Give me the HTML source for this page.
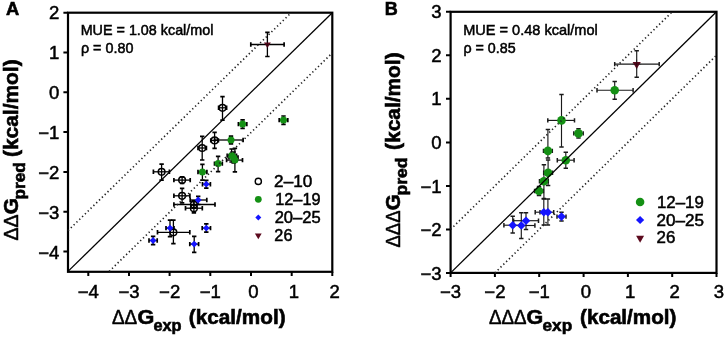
<!DOCTYPE html>
<html><head><meta charset="utf-8"><style>
html,body{margin:0;padding:0;background:#fff;}
body{width:726px;height:338px;overflow:hidden;}
.c{stroke-width:1.7}
.r .c{stroke-width:1.5}
text[font-weight=bold]{stroke-width:0.6}
svg{display:block;font-family:"Liberation Sans", sans-serif;will-change:transform;}
</style></head><body>
<svg width="726" height="338" viewBox="0 0 726 338">
<rect width="726" height="338" fill="#fff"/>
<g stroke="#000" stroke-width="2.2" fill="none">
<rect x="68.0" y="12.7" width="264.3" height="259.1"/>
<rect x="450.6" y="11.8" width="265.9" height="261.1"/>
<path d="M63.4 251.5H68.0M63.4 211.7H68.0M63.4 171.9H68.0M63.4 132.1H68.0M63.4 92.3H68.0M63.4 52.5H68.0M63.4 12.7H68.0M88.3 271.8V276.0M129.0 271.8V276.0M169.6 271.8V276.0M210.3 271.8V276.0M251.0 271.8V276.0M291.7 271.8V276.0M332.3 271.8V276.0M446.0 272.9H450.6M446.0 229.4H450.6M446.0 185.9H450.6M446.0 142.4H450.6M446.0 98.8H450.6M446.0 55.3H450.6M446.0 11.8H450.6M450.6 272.9V277.1M494.9 272.9V277.1M539.2 272.9V277.1M583.6 272.9V277.1M627.9 272.9V277.1M672.2 272.9V277.1M716.5 272.9V277.1" stroke-width="2"/>
</g>
<g stroke="#000" stroke-width="1.3" fill="none">
<path d="M153.4 171.8H169.4"/><path class="c" d="M153.4 169.6V174.0M169.4 169.6V174.0"/><path d="M161.6 164.2V180.2"/><path class="c" d="M159.4 164.2H163.8M159.4 180.2H163.8"/>
<path d="M173.9 180.1H190.2"/><path class="c" d="M173.9 177.9V182.3M190.2 177.9V182.3"/><path d="M182.1 176.8V183.4"/><path class="c" d="M179.9 176.8H184.3M179.9 183.4H184.3"/>
<path d="M173.9 195.8H189.9"/><path class="c" d="M173.9 193.6V198.0M189.9 193.6V198.0"/><path d="M182.1 188.3V202.9"/><path class="c" d="M179.9 188.3H184.3M179.9 202.9H184.3"/>
<path d="M173.9 204.5H215.0"/><path class="c" d="M173.9 202.3V206.7M215.0 202.3V206.7"/><path d="M193.9 200.8V208.2"/><path class="c" d="M191.7 200.8H196.1M191.7 208.2H196.1"/>
<path d="M185.5 208.2H202.3"/><path class="c" d="M185.5 206.0V210.4M202.3 206.0V210.4"/><path d="M193.9 201.3V212.8"/><path class="c" d="M191.7 201.3H196.1M191.7 212.8H196.1"/>
<path d="M157.5 232.3H189.8"/><path class="c" d="M157.5 230.1V234.5M189.8 230.1V234.5"/><path d="M173.4 220.1V243.7"/><path class="c" d="M171.2 220.1H175.6M171.2 243.7H175.6"/>
<path d="M198.0 148.0H206.4"/><path class="c" d="M198.0 145.8V150.2M206.4 145.8V150.2"/><path d="M202.2 136.3V160.0"/><path class="c" d="M200.0 136.3H204.4M200.0 160.0H204.4"/>
<path d="M210.8 140.4H218.4"/><path class="c" d="M210.8 138.2V142.6M218.4 138.2V142.6"/><path d="M214.6 132.4V148.4"/><path class="c" d="M212.4 132.4H216.8M212.4 148.4H216.8"/>
<path d="M218.6 107.8H226.6"/><path class="c" d="M218.6 105.6V110.0M226.6 105.6V110.0"/><path d="M222.5 96.6V120.2"/><path class="c" d="M220.3 96.6H224.7M220.3 120.2H224.7"/>
<path d="M214.6 140.0H243.1"/><path class="c" d="M214.6 137.8V142.2M243.1 137.8V142.2"/><path d="M231.0 136.2V143.8"/><path class="c" d="M228.8 136.2H233.2M228.8 143.8H233.2"/>
<path d="M227.2 155.6H236.5"/><path class="c" d="M227.2 153.4V157.8M236.5 153.4V157.8"/><path d="M231.6 149.0V162.0"/><path class="c" d="M229.4 149.0H233.8M229.4 162.0H233.8"/>
<path d="M229.0 157.4H238.0"/><path class="c" d="M229.0 155.2V159.6M238.0 155.2V159.6"/><path d="M233.6 152.0V163.0"/><path class="c" d="M231.4 152.0H235.8M231.4 163.0H235.8"/>
<path d="M226.6 160.1H242.5"/><path class="c" d="M226.6 157.9V162.3M242.5 157.9V162.3"/><path d="M234.9 148.3V171.9"/><path class="c" d="M232.7 148.3H237.1M232.7 171.9H237.1"/>
<path d="M214.5 163.6H222.3"/><path class="c" d="M214.5 161.4V165.8M222.3 161.4V165.8"/><path d="M218.1 156.3V171.7"/><path class="c" d="M215.9 156.3H220.3M215.9 171.7H220.3"/>
<path d="M198.0 172.0H206.9"/><path class="c" d="M198.0 169.8V174.2M206.9 169.8V174.2"/><path d="M202.4 164.4V180.1"/><path class="c" d="M200.2 164.4H204.6M200.2 180.1H204.6"/>
<path d="M238.4 124.1H246.8"/><path class="c" d="M238.4 121.9V126.3M246.8 121.9V126.3"/><path d="M242.6 119.9V128.3"/><path class="c" d="M240.4 119.9H244.8M240.4 128.3H244.8"/>
<path d="M279.2 120.1H287.8"/><path class="c" d="M279.2 117.9V122.3M287.8 117.9V122.3"/><path d="M283.5 116.0V124.4"/><path class="c" d="M281.3 116.0H285.7M281.3 124.4H285.7"/>
<path d="M202.5 184.2H210.4"/><path class="c" d="M202.5 182.0V186.4M210.4 182.0V186.4"/><path d="M206.3 180.4V188.1"/><path class="c" d="M204.1 180.4H208.5M204.1 188.1H208.5"/>
<path d="M190.2 200.0H206.8"/><path class="c" d="M190.2 197.8V202.2M206.8 197.8V202.2"/><path d="M198.2 196.3V204.5"/><path class="c" d="M196.0 196.3H200.4M196.0 204.5H200.4"/>
<path d="M166.0 228.1H174.0"/><path class="c" d="M166.0 225.9V230.3M174.0 225.9V230.3"/><path d="M170.0 220.1V236.6"/><path class="c" d="M167.8 220.1H172.2M167.8 236.6H172.2"/>
<path d="M202.2 228.1H210.5"/><path class="c" d="M202.2 225.9V230.3M210.5 225.9V230.3"/><path d="M206.3 223.8V232.2"/><path class="c" d="M204.1 223.8H208.5M204.1 232.2H208.5"/>
<path d="M189.8 244.1H198.6"/><path class="c" d="M189.8 241.9V246.3M198.6 241.9V246.3"/><path d="M194.2 236.3V252.3"/><path class="c" d="M192.0 236.3H196.4M192.0 252.3H196.4"/>
<path d="M149.0 240.5H157.2"/><path class="c" d="M149.0 238.3V242.7M157.2 238.3V242.7"/><path d="M153.1 236.4V244.6"/><path class="c" d="M150.9 236.4H155.3M150.9 244.6H155.3"/>
</g>
<g stroke="#1a1a1a" stroke-width="1.15" fill="none" class="r">
<path d="M597.0 90.2H633.1"/><path class="c" d="M597.0 88.0V92.4M633.1 88.0V92.4"/><path d="M614.7 81.4V99.2"/><path class="c" d="M612.5 81.4H616.9M612.5 99.2H616.9"/>
<path d="M547.8 120.4H574.5"/><path class="c" d="M547.8 118.2V122.6M574.5 118.2V122.6"/><path d="M561.5 94.4V146.9"/><path class="c" d="M559.3 94.4H563.7M559.3 146.9H563.7"/>
<path d="M573.8 133.4H583.2"/><path class="c" d="M573.8 131.2V135.6M583.2 131.2V135.6"/><path d="M578.5 128.7V138.1"/><path class="c" d="M576.3 128.7H580.7M576.3 138.1H580.7"/>
<path d="M543.5 150.9H552.3"/><path class="c" d="M543.5 148.7V153.1M552.3 148.7V153.1"/><path d="M547.9 129.6V158.0"/><path class="c" d="M545.7 129.6H550.1M545.7 158.0H550.1"/>
<path d="M557.3 160.2H574.1"/><path class="c" d="M557.3 158.0V162.4M574.1 158.0V162.4"/><path d="M565.8 152.2V168.2"/><path class="c" d="M563.6 152.2H568.0M563.6 168.2H568.0"/>
<path d="M543.7 172.8H552.5"/><path class="c" d="M543.7 170.6V175.0M552.5 170.6V175.0"/><path d="M548.1 160.0V185.4"/><path class="c" d="M545.9 160.0H550.3M545.9 185.4H550.3"/>
<path d="M539.5 181.3H548.3"/><path class="c" d="M539.5 179.1V183.5M548.3 179.1V183.5"/><path d="M543.9 164.7V198.5"/><path class="c" d="M541.7 164.7H546.1M541.7 198.5H546.1"/>
<path d="M534.6 191.0H543.4"/><path class="c" d="M534.6 188.8V193.2M543.4 188.8V193.2"/><path d="M539.0 186.6V195.4"/><path class="c" d="M536.8 186.6H541.2M536.8 195.4H541.2"/>
<path d="M503.9 225.2H520.0"/><path class="c" d="M503.9 223.0V227.4M520.0 223.0V227.4"/><path d="M512.7 216.3V233.1"/><path class="c" d="M510.5 216.3H514.9M510.5 233.1H514.9"/>
<path d="M513.6 225.5H534.9"/><path class="c" d="M513.6 223.3V227.7M534.9 223.3V227.7"/><path d="M521.3 212.7V238.5"/><path class="c" d="M519.1 212.7H523.5M519.1 238.5H523.5"/>
<path d="M513.6 220.7H538.5"/><path class="c" d="M513.6 218.5V222.9M538.5 218.5V222.9"/><path d="M526.0 212.7V229.6"/><path class="c" d="M523.8 212.7H528.2M523.8 229.6H528.2"/>
<path d="M535.2 212.2H548.0"/><path class="c" d="M535.2 210.0V214.4M548.0 210.0V214.4"/><path d="M543.8 199.0V224.9"/><path class="c" d="M541.6 199.0H546.0M541.6 224.9H546.0"/>
<path d="M540.0 212.2H553.7"/><path class="c" d="M540.0 210.0V214.4M553.7 210.0V214.4"/><path d="M547.9 199.0V224.9"/><path class="c" d="M545.7 199.0H550.1M545.7 224.9H550.1"/>
<path d="M557.0 216.6H566.0"/><path class="c" d="M557.0 214.4V218.8M566.0 214.4V218.8"/><path d="M561.5 212.2V221.0"/><path class="c" d="M559.3 212.2H563.7M559.3 221.0H563.7"/>
</g>
<circle cx="161.6" cy="171.8" r="3.35" fill="none" stroke="#000" stroke-width="1.5"/>
<circle cx="182.1" cy="180.1" r="3.35" fill="none" stroke="#000" stroke-width="1.5"/>
<circle cx="182.1" cy="195.8" r="3.35" fill="none" stroke="#000" stroke-width="1.5"/>
<circle cx="193.9" cy="204.5" r="3.35" fill="none" stroke="#000" stroke-width="1.5"/>
<circle cx="193.9" cy="208.2" r="3.35" fill="none" stroke="#000" stroke-width="1.5"/>
<circle cx="173.4" cy="232.3" r="3.35" fill="none" stroke="#000" stroke-width="1.5"/>
<circle cx="202.2" cy="148.0" r="3.35" fill="none" stroke="#000" stroke-width="1.5"/>
<circle cx="214.6" cy="140.4" r="3.35" fill="none" stroke="#000" stroke-width="1.5"/>
<circle cx="222.5" cy="107.8" r="3.35" fill="none" stroke="#000" stroke-width="1.5"/>
<circle cx="231.0" cy="140.0" r="3.5" fill="#149014"/>
<circle cx="231.6" cy="155.6" r="3.5" fill="#149014"/>
<circle cx="233.6" cy="157.4" r="3.5" fill="#149014"/>
<circle cx="234.9" cy="160.1" r="3.5" fill="#149014"/>
<circle cx="218.1" cy="163.6" r="3.5" fill="#149014"/>
<circle cx="202.4" cy="172.0" r="3.5" fill="#149014"/>
<circle cx="242.6" cy="124.1" r="3.5" fill="#149014"/>
<circle cx="283.5" cy="120.1" r="3.5" fill="#149014"/>
<path d="M206.3 180.79999999999998L209.70000000000002 184.2L206.3 187.6L202.9 184.2Z" fill="#1515ff"/>
<path d="M198.2 196.6L201.6 200.0L198.2 203.4L194.79999999999998 200.0Z" fill="#1515ff"/>
<path d="M170.0 224.7L173.4 228.1L170.0 231.5L166.6 228.1Z" fill="#1515ff"/>
<path d="M206.3 224.7L209.70000000000002 228.1L206.3 231.5L202.9 228.1Z" fill="#1515ff"/>
<path d="M194.2 240.7L197.6 244.1L194.2 247.5L190.79999999999998 244.1Z" fill="#1515ff"/>
<path d="M153.1 237.1L156.5 240.5L153.1 243.9L149.7 240.5Z" fill="#1515ff"/>
<g stroke="#000" stroke-width="1.3" fill="none"><path d="M250.8 44.5H284.1"/><path class="c" d="M250.8 42.3V46.7M284.1 42.3V46.7"/><path d="M267.4 32.3V56.5"/><path class="c" d="M265.2 32.3H269.6M265.2 56.5H269.6"/></g>
<path d="M263.9 42.6H270.9L267.4 48.0Z" fill="#5c0a1e"/>
<path d="M263.4 44.5H271.4M267.4 40.5V48.5" stroke="#000" stroke-opacity="0.4" stroke-width="0.9"/>
<circle cx="614.7" cy="90.2" r="4.3" fill="#149014"/>
<circle cx="561.5" cy="120.4" r="4.3" fill="#149014"/>
<circle cx="578.5" cy="133.4" r="4.3" fill="#149014"/>
<circle cx="547.9" cy="150.9" r="4.3" fill="#149014"/>
<circle cx="565.8" cy="160.2" r="4.3" fill="#149014"/>
<circle cx="548.1" cy="172.8" r="4.3" fill="#149014"/>
<circle cx="543.9" cy="181.3" r="4.3" fill="#149014"/>
<circle cx="539.0" cy="191.0" r="4.3" fill="#149014"/>
<path d="M512.7 220.89999999999998L517.0 225.2L512.7 229.5L508.40000000000003 225.2Z" fill="#1515ff"/>
<path d="M521.3 221.2L525.5999999999999 225.5L521.3 229.8L517.0 225.5Z" fill="#1515ff"/>
<path d="M526.0 216.39999999999998L530.3 220.7L526.0 225.0L521.7 220.7Z" fill="#1515ff"/>
<path d="M543.8 207.89999999999998L548.0999999999999 212.2L543.8 216.5L539.5 212.2Z" fill="#1515ff"/>
<path d="M547.9 207.89999999999998L552.1999999999999 212.2L547.9 216.5L543.6 212.2Z" fill="#1515ff"/>
<path d="M561.5 212.29999999999998L565.8 216.6L561.5 220.9L557.2 216.6Z" fill="#1515ff"/>
<g stroke="#1a1a1a" stroke-width="1.15" fill="none" class="r"><path d="M614.7 64.1H659.2"/><path class="c" d="M614.7 61.9V66.3M659.2 61.9V66.3"/><path d="M636.7 50.7V77.2"/><path class="c" d="M634.5 50.7H638.9M634.5 77.2H638.9"/></g>
<path d="M632.6 62.0H640.8L636.7 69.0Z" fill="#5c0a1e"/>
<path d="M632.2 64.1H641.2M636.7 59.6V69.1" stroke="#000" stroke-opacity="0.4" stroke-width="0.9"/>
<g stroke="#000" fill="none">
<path d="M68.0 271.4L332.3 12.7" stroke-width="1.3"/>
<path d="M68.0 230.7L291.2 12.7" stroke-width="1.65" stroke="#222" stroke-dasharray="1.3 2.65"/>
<path d="M109.2 271.4L332.3 52.9" stroke-width="1.65" stroke="#222" stroke-dasharray="1.3 2.65"/>
<path d="M450.6 272.9L716.5 11.8" stroke-width="1.3"/>
<path d="M450.6 229.4L672.2 11.8" stroke-width="1.65" stroke="#222" stroke-dasharray="1.3 2.65"/>
<path d="M494.9 272.9L716.5 55.3" stroke-width="1.65" stroke="#222" stroke-dasharray="1.3 2.65"/>
</g>
<circle cx="258.3" cy="181.4" r="3.1" fill="none" stroke="#000" stroke-width="1.4"/>
<circle cx="258.3" cy="199.3" r="3.4" fill="#149014"/>
<path d="M258.3 214.6L261.3 217.6L258.3 220.6L255.3 217.6Z" fill="#1515ff"/>
<path d="M254.9 233.6H261.7L258.3 239.2Z" fill="#5c0a1e"/>
<circle cx="640.1" cy="202.0" r="4.3" fill="#149014"/>
<path d="M640.1 215.9L644.2 220.0L640.1 224.1L636.0 220.0Z" fill="#1515ff"/>
<path d="M636.1 235.7H644.1L640.1 242.7Z" fill="#5c0a1e"/>
<g fill="#000" stroke="#000" stroke-width="0.5">
<text x="38.16" y="258.50" font-size="18" font-weight="normal" textLength="21.14" lengthAdjust="spacingAndGlyphs">−4</text>
<text x="77.73" y="297.80" font-size="18" font-weight="normal" textLength="21.14" lengthAdjust="spacingAndGlyphs">−4</text>
<text x="38.16" y="218.70" font-size="18" font-weight="normal" textLength="21.14" lengthAdjust="spacingAndGlyphs">−3</text>
<text x="118.40" y="297.80" font-size="18" font-weight="normal" textLength="21.14" lengthAdjust="spacingAndGlyphs">−3</text>
<text x="38.16" y="178.90" font-size="18" font-weight="normal" textLength="21.14" lengthAdjust="spacingAndGlyphs">−2</text>
<text x="159.07" y="297.80" font-size="18" font-weight="normal" textLength="21.14" lengthAdjust="spacingAndGlyphs">−2</text>
<text x="38.16" y="139.10" font-size="18" font-weight="normal" textLength="21.14" lengthAdjust="spacingAndGlyphs">−1</text>
<text x="199.74" y="297.80" font-size="18" font-weight="normal" textLength="21.14" lengthAdjust="spacingAndGlyphs">−1</text>
<text x="48.99" y="98.60" font-size="18" font-weight="normal" textLength="10.31" lengthAdjust="spacingAndGlyphs">0</text>
<text x="248.22" y="297.80" font-size="18" font-weight="normal" textLength="10.31" lengthAdjust="spacingAndGlyphs">0</text>
<text x="48.99" y="58.80" font-size="18" font-weight="normal" textLength="10.31" lengthAdjust="spacingAndGlyphs">1</text>
<text x="288.89" y="297.80" font-size="18" font-weight="normal" textLength="10.31" lengthAdjust="spacingAndGlyphs">1</text>
<text x="48.99" y="19.00" font-size="18" font-weight="normal" textLength="10.31" lengthAdjust="spacingAndGlyphs">2</text>
<text x="329.56" y="297.80" font-size="18" font-weight="normal" textLength="10.31" lengthAdjust="spacingAndGlyphs">2</text>
<text x="420.46" y="279.92" font-size="18" font-weight="normal" textLength="21.14" lengthAdjust="spacingAndGlyphs">−3</text>
<text x="440.03" y="297.80" font-size="18" font-weight="normal" textLength="21.14" lengthAdjust="spacingAndGlyphs">−3</text>
<text x="420.46" y="236.40" font-size="18" font-weight="normal" textLength="21.14" lengthAdjust="spacingAndGlyphs">−2</text>
<text x="484.35" y="297.80" font-size="18" font-weight="normal" textLength="21.14" lengthAdjust="spacingAndGlyphs">−2</text>
<text x="420.46" y="192.88" font-size="18" font-weight="normal" textLength="21.14" lengthAdjust="spacingAndGlyphs">−1</text>
<text x="528.67" y="297.80" font-size="18" font-weight="normal" textLength="21.14" lengthAdjust="spacingAndGlyphs">−1</text>
<text x="431.29" y="148.66" font-size="18" font-weight="normal" textLength="10.31" lengthAdjust="spacingAndGlyphs">0</text>
<text x="580.80" y="297.80" font-size="18" font-weight="normal" textLength="10.31" lengthAdjust="spacingAndGlyphs">0</text>
<text x="431.29" y="105.14" font-size="18" font-weight="normal" textLength="10.31" lengthAdjust="spacingAndGlyphs">1</text>
<text x="625.12" y="297.80" font-size="18" font-weight="normal" textLength="10.31" lengthAdjust="spacingAndGlyphs">1</text>
<text x="431.29" y="61.62" font-size="18" font-weight="normal" textLength="10.31" lengthAdjust="spacingAndGlyphs">2</text>
<text x="669.44" y="297.80" font-size="18" font-weight="normal" textLength="10.31" lengthAdjust="spacingAndGlyphs">2</text>
<text x="431.29" y="18.10" font-size="18" font-weight="normal" textLength="10.31" lengthAdjust="spacingAndGlyphs">3</text>
<text x="713.76" y="297.80" font-size="18" font-weight="normal" textLength="10.31" lengthAdjust="spacingAndGlyphs">3</text>
<text x="5.94" y="15.00" font-size="19" font-weight="bold" textLength="13.24" lengthAdjust="spacingAndGlyphs" >A</text>
<text x="384.69" y="15.00" font-size="19" font-weight="bold" textLength="13.03" lengthAdjust="spacingAndGlyphs" >B</text>
<text x="80.67" y="35.00" font-size="14.3" font-weight="normal" textLength="132.74" lengthAdjust="spacingAndGlyphs" >MUE = 1.08 kcal/mol</text>
<text x="80.92" y="53.30" font-size="14.3" font-weight="normal" textLength="52.49" lengthAdjust="spacingAndGlyphs" >ρ = 0.80</text>
<text x="463.16" y="35.00" font-size="14.3" font-weight="normal" textLength="134.67" lengthAdjust="spacingAndGlyphs" >MUE = 0.48 kcal/mol</text>
<text x="463.43" y="53.30" font-size="14.3" font-weight="normal" textLength="52.17" lengthAdjust="spacingAndGlyphs" >ρ = 0.85</text>
<text x="274.14" y="186.60" font-size="16.2" font-weight="normal" textLength="38.13" lengthAdjust="spacingAndGlyphs" >2–10</text>
<text x="275.26" y="204.70" font-size="16.2" font-weight="normal" textLength="45.31" lengthAdjust="spacingAndGlyphs" >12–19</text>
<text x="274.67" y="223.00" font-size="16.2" font-weight="normal" textLength="46.03" lengthAdjust="spacingAndGlyphs" >20–25</text>
<text x="274.38" y="240.90" font-size="16.2" font-weight="normal" textLength="18.03" lengthAdjust="spacingAndGlyphs" >26</text>
<text x="657.02" y="207.80" font-size="16.2" font-weight="normal" textLength="46.78" lengthAdjust="spacingAndGlyphs" >12–19</text>
<text x="656.54" y="225.60" font-size="16.2" font-weight="normal" textLength="47.48" lengthAdjust="spacingAndGlyphs" >20–25</text>
<text x="656.55" y="243.40" font-size="16.2" font-weight="normal" textLength="18.79" lengthAdjust="spacingAndGlyphs" >26</text>
<text x="111.89" y="324.20" font-size="19.8" font-weight="normal" textLength="25.29" lengthAdjust="spacingAndGlyphs" >ΔΔ</text>
<text x="137.41" y="324.20" font-size="20" font-weight="bold" textLength="16.83" lengthAdjust="spacingAndGlyphs" >G</text>
<text x="153.41" y="331.00" font-size="16.5" font-weight="bold" textLength="28.16" lengthAdjust="spacingAndGlyphs" >exp</text>
<text x="188.82" y="324.20" font-size="20" font-weight="bold" textLength="96.76" lengthAdjust="spacingAndGlyphs" >(kcal/mol)</text>
<text x="488.89" y="324.20" font-size="19.8" font-weight="normal" textLength="37.63" lengthAdjust="spacingAndGlyphs" >ΔΔΔ</text>
<text x="526.47" y="324.20" font-size="20" font-weight="bold" textLength="16.71" lengthAdjust="spacingAndGlyphs" >G</text>
<text x="542.58" y="331.00" font-size="16.5" font-weight="bold" textLength="29.57" lengthAdjust="spacingAndGlyphs" >exp</text>
<text x="580.02" y="324.20" font-size="20" font-weight="bold" textLength="96.46" lengthAdjust="spacingAndGlyphs" >(kcal/mol)</text>
<text x="18.30" y="240.58" font-size="19.8" font-weight="normal" textLength="26.07" lengthAdjust="spacingAndGlyphs" transform="rotate(-90 18.30 240.58)" >ΔΔ</text>
<text x="18.30" y="214.36" font-size="20" font-weight="bold" textLength="16.25" lengthAdjust="spacingAndGlyphs" transform="rotate(-90 18.30 214.36)" >G</text>
<text x="25.40" y="199.43" font-size="16.5" font-weight="bold" textLength="37.27" lengthAdjust="spacingAndGlyphs" transform="rotate(-90 25.40 199.43)" >pred</text>
<text x="18.30" y="157.04" font-size="20" font-weight="bold" textLength="97.68" lengthAdjust="spacingAndGlyphs" transform="rotate(-90 18.30 157.04)" >(kcal/mol)</text>
<text x="399.60" y="247.55" font-size="19.8" font-weight="normal" textLength="37.11" lengthAdjust="spacingAndGlyphs" transform="rotate(-90 399.60 247.55)" >ΔΔΔ</text>
<text x="399.60" y="210.14" font-size="20" font-weight="bold" textLength="16.02" lengthAdjust="spacingAndGlyphs" transform="rotate(-90 399.60 210.14)" >G</text>
<text x="406.70" y="195.56" font-size="16.5" font-weight="bold" textLength="38.12" lengthAdjust="spacingAndGlyphs" transform="rotate(-90 406.70 195.56)" >pred</text>
<text x="399.60" y="149.94" font-size="20" font-weight="bold" textLength="97.58" lengthAdjust="spacingAndGlyphs" transform="rotate(-90 399.60 149.94)" >(kcal/mol)</text>
</g>
</svg>
</body></html>
